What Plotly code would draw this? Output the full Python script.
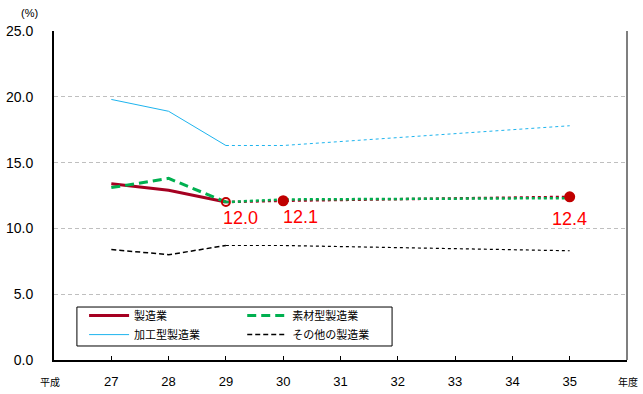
import plotly.graph_objects as go

# 実績（平成27〜29年度）
years_actual = [27, 28, 29]
mfg_actual = [13.4, 12.9, 12.0]        # 製造業
material_actual = [13.1, 13.8, 12.0]   # 素材型製造業
process_actual = [19.8, 18.9, 16.3]    # 加工型製造業
other_actual = [8.4, 8.0, 8.7]         # その他の製造業

# 見通し（平成29〜35年度）
years_plan = [29, 30, 35]
mfg_plan = [12.0, 12.1, 12.4]
material_plan = [12.0, 12.2, 12.3]
process_plan = [16.3, 16.3, 17.8]
other_plan = [8.7, 8.7, 8.3]

tick_years = [27, 28, 29, 30, 31, 32, 33, 34, 35]

RED = "#A50021"
DOT_RED = "#C00000"
GREEN = "#00B050"
BLUE = "#1EB4EE"
BLACK = "#000000"
FONT = "Liberation Sans, Noto Sans CJK JP, sans-serif"
JP_FONT = "Noto Sans CJK JP, sans-serif"

fig = go.Figure()

# 凡例（左列）
fig.add_trace(go.Scatter(x=years_actual, y=mfg_actual, mode="lines", name="製造業",
                         line=dict(color=RED, width=3), legend="legend"))
fig.add_trace(go.Scatter(x=years_actual, y=process_actual, mode="lines", name="加工型製造業",
                         line=dict(color=BLUE, width=1), legend="legend"))
# 凡例（右列）
fig.add_trace(go.Scatter(x=years_actual, y=material_actual, mode="lines", name="素材型製造業",
                         line=dict(color=GREEN, width=3, dash="9px,5px"), legend="legend2"))
fig.add_trace(go.Scatter(x=years_actual, y=other_actual, mode="lines", name="その他の製造業",
                         line=dict(color=BLACK, width=1.5, dash="5px,3px"), legend="legend2"))

# 見通し部分（点線）
fig.add_trace(go.Scatter(x=years_plan, y=mfg_plan, mode="lines", showlegend=False,
                         line=dict(color=RED, width=2.5, dash="dot")))
fig.add_trace(go.Scatter(x=years_plan, y=material_plan, mode="lines", showlegend=False,
                         line=dict(color=GREEN, width=2.5, dash="dot")))
fig.add_trace(go.Scatter(x=years_plan, y=process_plan, mode="lines", showlegend=False,
                         line=dict(color=BLUE, width=1, dash="dot")))
fig.add_trace(go.Scatter(x=years_plan, y=other_plan, mode="lines", showlegend=False,
                         line=dict(color=BLACK, width=1.2, dash="dot")))

# 製造業の基準点・見通し点
fig.add_trace(go.Scatter(x=years_plan, y=mfg_plan, mode="markers", showlegend=False,
                         marker=dict(color=DOT_RED, size=[8, 9, 9], opacity=1,
                                     symbol=["circle-open", "circle", "circle"],
                                     line=dict(color=DOT_RED, width=2))))

# 値ラベル
label_shift = [(15, -4), (17, -4), (0, -10)]
for x, y, (dx, dy) in zip(years_plan, mfg_plan, label_shift):
    fig.add_annotation(x=x, y=y, text=f"{y:.1f}", showarrow=False,
                       xanchor="center", yanchor="top", xshift=dx, yshift=dy,
                       font=dict(family=FONT, size=18, color="#FF0000"))

# 軸外の注記
fig.add_annotation(xref="paper", yref="paper", x=-0.0436, y=1.055, text="(%)",
                   showarrow=False, xanchor="center", yanchor="middle",
                   font=dict(family=FONT, size=11, color="#000"))
fig.add_annotation(xref="paper", yref="paper", x=-0.007, y=-0.064, text="平成",
                   showarrow=False, xanchor="center", yanchor="middle",
                   font=dict(family=JP_FONT, size=10, color="#000"))
fig.add_annotation(xref="paper", yref="paper", x=1.002, y=-0.064, text="年度",
                   showarrow=False, xanchor="center", yanchor="middle",
                   font=dict(family=JP_FONT, size=10, color="#000"))

# 右端の枠線と凡例の枠
fig.add_shape(type="line", xref="paper", yref="paper", x0=1, x1=1, y0=0, y1=1,
              line=dict(color="#7F7F7F", width=2))
fig.add_shape(type="rect", xref="paper", yref="paper", x0=0.040, x1=0.590,
              y0=0.0426, y1=0.161, line=dict(color="#000", width=1),
              fillcolor="rgba(0,0,0,0)", layer="above")

fig.update_layout(
    width=643, height=394,
    margin=dict(l=54, r=16, t=31, b=34),
    paper_bgcolor="white", plot_bgcolor="white",
    font=dict(family=FONT, size=13, color="#000"),
    legend=dict(x=0.0525, y=0.179, xanchor="left", yanchor="top",
                bgcolor="rgba(0,0,0,0)", borderwidth=0, itemwidth=40,
                font=dict(family=JP_FONT, size=11), tracegroupgap=0),
    legend2=dict(x=0.3285, y=0.179, xanchor="left", yanchor="top",
                 bgcolor="rgba(0,0,0,0)", borderwidth=0, itemwidth=40,
                 font=dict(family=JP_FONT, size=11), tracegroupgap=0),
)

fig.update_xaxes(range=[26, 36], tickmode="array", tickvals=tick_years,
                 ticktext=[str(v) for v in tick_years],
                 showgrid=False, zeroline=False, automargin=False,
                 showline=True, linecolor="#000", linewidth=2,
                 ticks="inside", ticklen=4, tickcolor="#000",
                 ticklabelstandoff=8, tickfont=dict(size=13))
fig.update_yaxes(range=[0, 25], tickmode="linear", tick0=0, dtick=5, tickformat=".1f",
                 showgrid=True, gridcolor="#BFBFBF", griddash="4px,3px", gridwidth=1,
                 zeroline=False, showline=True, linecolor="#000", linewidth=2,
                 automargin=False,
                 ticks="", ticklabelstandoff=16, tickfont=dict(size=14))

fig.write_html("out.html")
